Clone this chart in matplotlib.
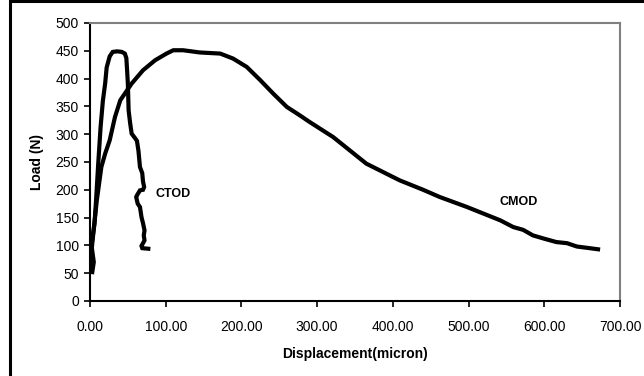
import matplotlib
matplotlib.use("Agg")
import matplotlib.pyplot as plt
from matplotlib.patches import Rectangle

plt.rcParams['font.family'] = ['Liberation Sans', 'DejaVu Sans']

# CTOD curve (displacement micron, load N)
ctod_x = [3, 5, 2, 6, 8, 11, 14, 17, 20, 22, 26, 30, 36, 42, 46, 48, 49, 50, 51, 53, 55,
          60, 62, 64, 66, 69, 70, 71.5, 70, 66, 62, 61, 63, 66, 67, 68, 70, 72, 71,
          72, 70, 68, 69, 77]
ctod_y = [52, 70, 100, 140, 181, 250, 313, 360, 391, 420, 440, 448, 449, 448, 445, 437,
          415, 391, 343, 320, 301, 292, 288, 270, 241, 230, 215, 205, 200, 199, 190,
          187, 175, 169, 160, 151, 140, 127, 118, 109, 104, 99, 95, 94]

# CMOD curve
cmod_x = [1, 2, 4.4, 9, 15, 20, 26, 33, 40, 55, 70, 86, 101, 110, 123, 145, 172, 189,
          207, 225, 242, 260, 277, 290, 321, 365, 409, 440, 462, 498, 520, 542, 559,
          572, 585, 600, 616, 630, 643, 660, 671]
cmod_y = [58, 90, 122, 181, 241, 265, 289, 331, 361, 391, 415, 433, 445, 451, 451, 447,
          445, 436, 421, 397, 373, 349, 334, 322, 295, 247, 217, 200, 187, 169, 157,
          145, 133, 128, 118, 112, 106, 104, 98, 95, 93]

x_ticks = [0, 100, 200, 300, 400, 500, 600, 700]
y_ticks = [0, 50, 100, 150, 200, 250, 300, 350, 400, 450, 500]

W, H = 644, 376
fig = plt.figure(figsize=(W / 100, H / 100), dpi=100)
ax = fig.add_axes([90 / W, 1 - 301 / H, (620 - 90) / W, (301 - 23) / H])

ax.plot(ctod_x, ctod_y, color='black', lw=3, solid_joinstyle='miter')
ax.plot(cmod_x, cmod_y, color='black', lw=3)

ax.text(87, 192, 'CTOD', fontsize=9, fontweight='bold', va='center', ha='left')
ax.text(541, 178, 'CMOD', fontsize=9, fontweight='bold', va='center', ha='left')

ax.set_xlim(0, 700)
ax.set_ylim(0, 500)
ax.set_xticks(x_ticks)
ax.set_xticklabels([f'{v:.2f}' for v in x_ticks])
ax.set_yticks(y_ticks)
ax.set_yticklabels([str(v) for v in y_ticks])
ax.tick_params(axis='both', labelsize=10, direction='out', length=4, width=1.2, color='black')
ax.tick_params(axis='x', pad=10)
ax.tick_params(axis='y', pad=4)

ax.spines['left'].set_color('black')
ax.spines['left'].set_linewidth(1.5)
ax.spines['bottom'].set_color('black')
ax.spines['bottom'].set_linewidth(1.5)
ax.spines['top'].set_color('#808080')
ax.spines['top'].set_linewidth(1.5)
ax.spines['right'].set_color('#808080')
ax.spines['right'].set_linewidth(1.5)

ax.set_xlabel('Displacement(micron)', fontsize=10, fontweight='bold', labelpad=9)
ax.set_ylabel('Load (N)', fontsize=10, fontweight='bold', labelpad=8)

# outer chart border (only top and left visible)
fig.patches.append(Rectangle((10 / W, -0.1), 1.2, 1.1 - 1.5 / H, transform=fig.transFigure,
                             fill=False, edgecolor='black', lw=2.2))

fig.savefig('out.png', dpi=100)
